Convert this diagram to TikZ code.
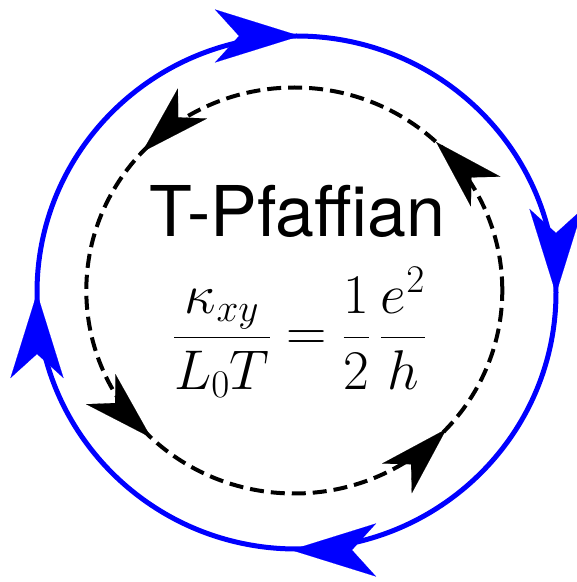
\RequirePackage{fix-cm}
\documentclass[tikz,border=0pt]{standalone}
\usepackage[no-math]{fontspec}
\newfontfamily\heros{TeX Gyre Heros}
\usetikzlibrary{arrows.meta,calc}
\begin{document}
\begin{tikzpicture}[x=1pt,y=1pt,
  bluering/.style={draw=blue, line width=5pt},
  blackring/.style={draw=black, line width=4pt, dash pattern=on 14pt off 7pt},
  bluetip/.style={draw=blue, fill=blue, line width=0.1pt, -{Stealth[length=85pt,width=53pt,inset=24pt]}},
  blacktip/.style={draw=black, fill=black, line width=0.1pt, -{Stealth[length=70pt,width=42pt,inset=20pt]}}]
\useasboundingbox (0,0) rectangle (577,582);
\coordinate (oc) at (296.5,289.5);
\coordinate (ic) at (294.3,291.5);
\draw[bluering] (oc) ellipse [x radius=259.5, y radius=256.5];
\draw[blackring] (ic) ellipse [x radius=208, y radius=203];
% blue tips (clockwise)
\coordinate (b1) at (300,546);
\coordinate (b2) at (556,288);
\coordinate (b3) at (291,32);
\coordinate (b4) at (37,289);
\draw[bluetip] ($(b1)+(180:1)$) -- (b1);
\draw[bluetip] ($(b2)+(90:1)$) -- (b2);
\draw[bluetip] ($(b3)+(0:1)$) -- (b3);
\draw[bluetip] ($(b4)+(270:1)$) -- (b4);
% black tips (counter-clockwise)
\coordinate (k1) at ($(ic)+(137:208 and 203)$);
\coordinate (k2) at ($(ic)+(47:208 and 203)$);
\coordinate (k3) at ($(ic)+(226.5:208 and 203)$);
\coordinate (k4) at ($(ic)+(317:208 and 203)$);
\draw[blacktip] ($(k1)+(44:1)$) -- (k1);
\draw[blacktip] ($(k2)+(315:1)$) -- (k2);
\draw[blacktip] ($(k3)+(136:1)$) -- (k3);
\draw[blacktip] ($(k4)+(225:1)$) -- (k4);
\node[font=\heros\fontsize{70}{80}\selectfont, anchor=base, inner sep=0pt] (title) at (297.5,345) {T-Pfaffian};
\node[font=\fontsize{56}{62}\selectfont, anchor=base, inner sep=0pt] (eq) at (299.5,231)
  {$\displaystyle \frac{\kappa_{xy}}{L_0T}=\frac{1}{2}\,\frac{e^2}{h}$};
\end{tikzpicture}
\end{document}
